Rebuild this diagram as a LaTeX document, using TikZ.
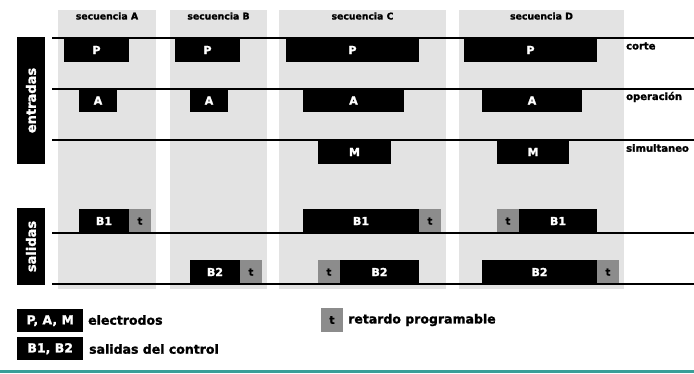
\documentclass[tikz,border=0pt]{standalone}
\usepackage{fontspec}
\setmainfont{DejaVu Sans}[BoldFeatures={FakeBold=1.5}]
\definecolor{tealline}{HTML}{3A9E98}
\begin{document}
\begin{tikzpicture}[x=1pt,y=-1pt,
  colbg/.style={fill=black!11},
  pulse/.style={fill=black,text=white,inner sep=0pt,outer sep=0pt,anchor=north west,font=\bfseries\fontsize{11}{11}\selectfont},
  tbox/.style={fill=black!45,text=black,inner sep=0pt,outer sep=0pt,anchor=north west,minimum width=22pt,font=\bfseries\fontsize{10}{10}\selectfont},
  sig/.style={line width=2.4pt,black},
  hdr/.style={font=\bfseries\fontsize{9.3}{9.3}\selectfont,inner sep=0pt},
  rlab/.style={font=\bfseries\fontsize{10}{10}\selectfont,anchor=west,inner sep=0pt},
  side/.style={fill=black,text=white,inner sep=0pt,rotate=90,font=\bfseries\fontsize{13}{13}\selectfont},
  legbox/.style={fill=black,text=white,inner sep=0pt,anchor=north west,minimum width=66pt,minimum height=23pt,font=\bfseries\fontsize{12.5}{12.5}\selectfont},
  legtxt/.style={font=\bfseries\fontsize{12.5}{12.5}\selectfont,anchor=west,inner sep=0pt}
]
\useasboundingbox (0,0) rectangle (694,373);
\fill[white] (0,0) rectangle (694,373);
% columns
\fill[colbg] (58,10) rectangle (156,289);
\fill[colbg] (170,10) rectangle (267,289);
\fill[colbg] (279,10) rectangle (446,289);
\fill[colbg] (459,10) rectangle (624,289);
\node[hdr] (hA) at (107,16) {secuencia A};
\node[hdr] (hB) at (218.5,16) {secuencia B};
\node[hdr] (hC) at (362.5,16) {secuencia C};
\node[hdr] (hD) at (541.5,16) {secuencia D};
% side labels
\node[side,minimum width=127pt,minimum height=28pt] (ent) at (31,100.5) {entradas};
\node[side,minimum width=77pt,minimum height=28pt] (sal) at (31,246.5) {salidas};
% signal lines
\coordinate (l1a) at (52,38); \coordinate (l1b) at (694,38);
\coordinate (l2a) at (52,89); \coordinate (l2b) at (694,89);
\coordinate (l3a) at (52,140); \coordinate (l3b) at (694,140);
\coordinate (l4a) at (52,233); \coordinate (l4b) at (694,233);
\coordinate (l5a) at (52,284); \coordinate (l5b) at (694,284);
% P pulses
\node[pulse,minimum width=65pt,minimum height=24pt] (pA) at (64,38) {P};
\node[pulse,minimum width=65pt,minimum height=24pt] (pB) at (175,38) {P};
\node[pulse,minimum width=133pt,minimum height=24pt] (pC) at (286,38) {P};
\node[pulse,minimum width=133pt,minimum height=24pt] (pD) at (464,38) {P};
% A pulses
\node[pulse,minimum width=38pt,minimum height=23pt] (aA) at (79,89) {A};
\node[pulse,minimum width=38pt,minimum height=23pt] (aB) at (190,89) {A};
\node[pulse,minimum width=101pt,minimum height=23pt] (aC) at (303,89) {A};
\node[pulse,minimum width=100pt,minimum height=23pt] (aD) at (482,89) {A};
% M pulses
\node[pulse,minimum width=73pt,minimum height=24pt] (mC) at (318,140) {M};
\node[pulse,minimum width=72pt,minimum height=24pt] (mD) at (497,140) {M};
% B1 pulses
\node[pulse,minimum width=50pt,minimum height=24pt] (b1A) at (79,209) {B1};
\node[tbox,minimum height=24pt] (t1A) at (129,209) {t};
\node[pulse,minimum width=116pt,minimum height=24pt] (b1C) at (303,209) {B1};
\node[tbox,minimum height=24pt] (t1C) at (419,209) {t};
\node[tbox,minimum height=24pt] (t1D) at (497,209) {t};
\node[pulse,minimum width=78pt,minimum height=24pt] (b1D) at (519,209) {B1};
% B2 pulses
\node[pulse,minimum width=50pt,minimum height=24pt] (b2B) at (190,260) {B2};
\node[tbox,minimum height=24pt] (t2B) at (240,260) {t};
\node[tbox,minimum height=24pt] (t2C) at (318,260) {t};
\node[pulse,minimum width=79pt,minimum height=24pt] (b2C) at (340,260) {B2};
\node[pulse,minimum width=115pt,minimum height=24pt] (b2D) at (482,260) {B2};
\node[tbox,minimum height=24pt] (t2D) at (597,260) {t};
% lines drawn on top
\draw[sig] (l1a) -- (l1b);
\draw[sig] (l2a) -- (l2b);
\draw[sig] (l3a) -- (l3b);
\draw[sig] (l4a) -- (l4b);
\draw[sig] (l5a) -- (l5b);
% right labels
\node[rlab] (corte) at (626,46) {corte};
\node[rlab] (oper) at (626,97) {operación};
\node[rlab] (simu) at (626,148) {simultaneo};
% legend
\node[legbox] (lg1) at (17,309) {P, A, M};
\node[legtxt] (lg1t) at (88,320) {electrodos};
\node[legbox] (lg2) at (17,337) {B1, B2};
\node[legtxt] (lg2t) at (89,349) {salidas del control};
\node[tbox,minimum height=24pt,font=\bfseries\fontsize{11}{11}\selectfont] (lg3) at (321,308) {t};
\node[legtxt] (lg3t) at (348,320) {retardo programable};
% bottom line
\fill[tealline] (0,370) rectangle (694,373);
\end{tikzpicture}
\end{document}
